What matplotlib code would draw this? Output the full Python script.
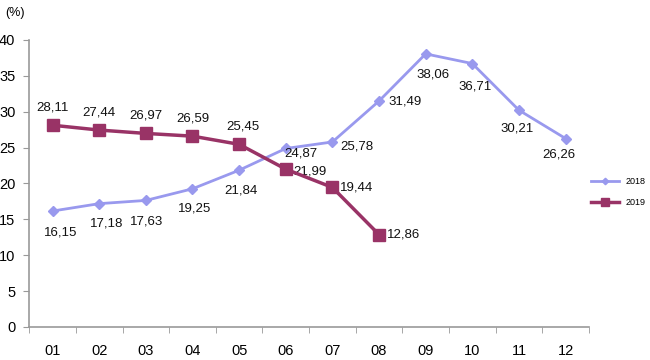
import matplotlib.pyplot as plt
from matplotlib.ticker import FixedLocator

plt.rcParams['font.family'] = ['Liberation Sans', 'DejaVu Sans']

months = ['01', '02', '03', '04', '05', '06', '07', '08', '09', '10', '11', '12']
rate_2018 = [16.15, 17.18, 17.63, 19.25, 21.84, 24.87, 25.78, 31.49, 38.06, 36.71, 30.21, 26.26]
rate_2019 = [28.11, 27.44, 26.97, 26.59, 25.45, 21.99, 19.44, 12.86]

# label offsets in pixels (dx, dy, ha)
off_2018 = [(8, -21, 'center'), (7, -20, 'center'), (1, -21, 'center'), (2, -20, 'center'),
            (2, -20, 'center'), (15, -5, 'center'), (8, -5, 'left'), (9, 0, 'left'),
            (7, -21, 'center'), (3, -23, 'center'), (-2, -18, 'center'), (-7, -16, 'center')]
off_2019 = [(0, 18, 'center'), (0, 18, 'center'), (0, 18, 'center'), (0, 18, 'center'),
            (4, 18, 'center'), (8, -2, 'left'), (8, 0, 'left'), (8, 0, 'left')]

c18 = '#9999ee'
c19 = '#993366'

fig = plt.figure(figsize=(6.5, 3.6), dpi=100)
ax = fig.add_axes([0.045, 0.092, 0.861, 0.797])

x18 = list(range(1, len(rate_2018) + 1))
x19 = list(range(1, len(rate_2019) + 1))
ax.plot(x18, rate_2018, color=c18, lw=2, marker='D', ms=5.5, label='2018', zorder=3)
ax.plot(x19, rate_2019, color=c19, lw=2.5, marker='s', ms=9, label='2019', zorder=4)

def fmt(v):
    return ('%.2f' % v).replace('.', ',')

for x, v, (dx, dy, ha) in zip(x18, rate_2018, off_2018):
    ax.annotate(fmt(v), (x, v), xytext=(dx, dy), textcoords='offset pixels',
                ha=ha, va='center', fontsize=9.5, color='#111111')
for x, v, (dx, dy, ha) in zip(x19, rate_2019, off_2019):
    ax.annotate(fmt(v), (x, v), xytext=(dx, dy), textcoords='offset pixels',
                ha=ha, va='center', fontsize=9.5, color='#111111')

ax.set_xlim(0.5, 12.5)
ax.set_ylim(0, 40)
ax.set_yticks(range(0, 41, 5))
ax.set_xticks(x18)
ax.set_xticklabels(months)
ax.xaxis.set_minor_locator(FixedLocator([i + 0.5 for i in range(0, 13)]))
ax.tick_params(axis='x', which='major', length=0, pad=12, labelsize=10.5)
ax.tick_params(axis='x', which='minor', length=4, direction='out', color='#999999')
ax.tick_params(axis='y', length=4, direction='out', color='#999999', labelsize=10.5, pad=6)
for s in ['top', 'right']:
    ax.spines[s].set_visible(False)
for s in ['left', 'bottom']:
    ax.spines[s].set_color('#999999')
    ax.spines[s].set_linewidth(1.2)

fig.text(0.008, 0.965, '(%)', fontsize=9, va='center')

leg = ax.legend(loc='center left', bbox_to_anchor=(0.99, 0.47), frameon=False,
                fontsize=6.5, handlelength=3, labelspacing=1.4, markerscale=0.6)

fig.savefig('out.png', dpi=100)
